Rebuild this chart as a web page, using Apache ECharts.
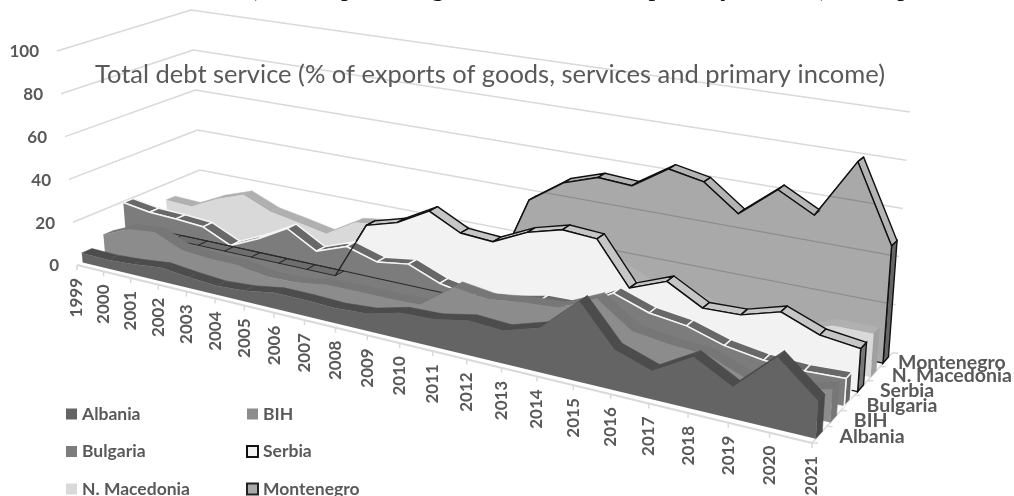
<!DOCTYPE html>
<html>
<head>
<meta charset="utf-8">
<style>html,body{margin:0;padding:0;background:#fff}#chart{width:1014px;height:496px}</style>
<script src="https://cdn.jsdelivr.net/npm/echarts@6/dist/echarts.min.js"></script>
</head>
<body>
<div id="chart"></div>
<script>
// Total debt service, % of exports of goods, services and primary income
const years = ['1999','2000','2001','2002','2003','2004','2005','2006','2007','2008','2009','2010','2011','2012','2013','2014','2015','2016','2017','2018','2019','2020','2021'];
const depthLabels = ['Albania','BIH','Bulgaria','Serbia','N. Macedonia','Montenegro'];
const valueTicks = [0,20,40,60,80,100];

const albania    = [4.5,4.2,5,6.4,5,4,4.9,7,7,6.5,7.5,11,11.5,14.3,13.5,18,32,16,11,20,12,27,14];
const bih        = [8.5,14,15.3,9.7,8.7,8.6,6.3,6.6,8.8,9,9,9.4,20,18,20,21,28,18,16,15,9,9,12.7];
const bulgaria   = [19.5,17.5,17,16,10,16,23.5,16,21,17,19,13.5,11,12.4,15.6,16,25,20,18,13.4,11,10.3,11];
const serbia     = [0,0,0,0,0,0,0,0,26,30,38,31,30,37,41,40,22,28,20,20.5,25,19,17];
const macedonia  = [12.3,11.7,17.9,22.5,17,14.6,12,20,22,25,27,24,24,28,30,25,18,18,14,14,12,17.5,17.5];
const montenegro = [null,null,null,null,null,null,null,null,null,null,null,0,39.5,50,55,54,64,61,50,63,55,80,48];

// Box corners of the 3-D scene: floor and the plane at the axis maximum
const floorQuad = [[77,265],[812,443],[892,353],[202,210]];
const roofQuad  = [[57,51],[830,174],[910,112],[191,10]];

function quadMap(q){
  const [[x0,y0],[x1,y1],[x2,y2],[x3,y3]] = q;
  const dx1=x1-x2, dx2=x3-x2, sx=x0-x1+x2-x3, dy1=y1-y2, dy2=y3-y2, sy=y0-y1+y2-y3;
  const den=dx1*dy2-dx2*dy1, g=(sx*dy2-dx2*sy)/den, h=(dx1*sy-sx*dy1)/den;
  const a=x1-x0+g*x1, b=x3-x0+h*x3, d=y1-y0+g*y1, e=y3-y0+h*y3;
  return (u,v)=>{const w=g*u+h*v+1; return [(a*u+b*v+x0)/w,(d*u+e*v+y0)/w];};
}
const floorMap = quadMap(floorQuad), roofMap = quadMap(roofQuad);
const FRONT = 0.25, BACK = 0.7, ROWS = depthLabels.length;
const TEXT = '#595959', FONT = 'Lato';
const depthLabelNudge = [20,20,19,19,18,12];

// Scene position of a (year, value) pair on a depth plane, read through the cartesian axes
function projector(params, api){
  const g = params.coordSys;
  return (k, value, v)=>{
    const c = api.coord([k, value]);
    const u = (c[0]-g.x)/g.width, t = (g.y+g.height-c[1])/g.height;
    const f = floorMap(u,v), r = roofMap(u,v);
    return [f[0]+(r[0]-f[0])*t, f[1]+(r[1]-f[1])*t];
  };
}
const poly = (points, style)=>({type:'polygon', shape:{points}, style});
const line = (points, stroke, lineWidth)=>({type:'polyline', shape:{points}, style:{stroke, lineWidth, fill:null, lineJoin:'round'}});
const txt = (text, x, y, font, opts)=>({type:'text', x, y, rotation:(opts&&opts.rotation)||0, style:{text, x:0, y:0, font, fill:(opts&&opts.fill)||TEXT, align:(opts&&opts.align)||'left', verticalAlign:'middle'}});

// One ribbon: top strips and end wall first, then the front face over them
function ribbon(params, api, values, row, look){
  if (params.dataIndex !== 0) return null;
  const P = projector(params, api);
  const vF = (row+FRONT)/ROWS, vB = (row+BACK)/ROWS;
  const idx = values.map((x,i)=>x===null?-1:i).filter(i=>i>=0);
  const kids = [];
  const edge = look.edge;
  const skip = i => values[i]===0 && values[i+1]===0;
  idx.slice(0,-1).forEach(i=>{
    if (skip(i)) return;
    kids.push(poly([P(i,values[i],vF),P(i+1,values[i+1],vF),P(i+1,values[i+1],vB),P(i,values[i],vB)],
      {fill:look.strip, stroke:edge||look.strip, lineWidth:edge?look.width:0.5, lineJoin:'round'}));
  });
  const last = idx[idx.length-1];
  kids.push(poly([P(last,values[last],vF),P(last,values[last],vB),P(last,0,vB),P(last,0,vF)],
    {fill:look.side, stroke:edge||look.side, lineWidth:edge?look.width:0.5}));
  const top = idx.map(i=>P(i,values[i],vF));
  const shape = top.concat([P(last,0,vF),P(idx[0],0,vF)]);
  kids.push(poly(shape, {fill:look.face}));
  if (look.wallLines) look.wallLines(params, api, P, shape, kids);
  if (edge){
    const first = idx.find(i=>!skip(i));
    const run = idx.filter(i=>i>=first).map(i=>P(i,values[i],vF));
    run.push(P(last,0,vF));
    run.push(P(first,0,vF));
    kids.push(line(run, edge, look.width));
    if (look.crossTicks) idx.forEach(i=>kids.push(line([P(i,values[i],vF),P(i,values[i],vB)], edge, 1)));
  }
  return {type:'group', children:kids};
}

// Walls, floor axes and every tick label
function frame(params, api){
  if (params.dataIndex !== 0) return null;
  const P = projector(params, api), n = years.length-1;
  const kids = [];
  const grid = '#d9d9d9';
  valueTicks.forEach(t=>{
    const a=P(0,t,0), b=P(0,t,1), c=P(n,t,1);
    if (t>0) kids.push(line([a,b,c], grid, 1.5));
    kids.push(txt(String(t), a[0]-18, a[1]+1, 'bold 17px '+FONT, {align:'right'}));
  });
  const fl=P(0,0,0), fr=P(n,0,0), br=P(n,0,1);
  kids.push(line([fl,fr], grid, 2));
  kids.push(line([fr,br], grid, 1.5));
  years.forEach((y,k)=>{
    // year ticks sit slightly further along the axis than the pure projection
    const u=k/n, slide=0.03*u*(1-u)*735;
    const p0=P(k,0,0), p=[p0[0]+slide,p0[1]+slide*0.242];
    kids.push(line([p,[p[0],p[1]+5]], grid, 1.5));
    kids.push(txt(y, p[0], p[1]+13, 'bold 17px '+FONT, {rotation:Math.PI/2, align:'right'}));
  });
  depthLabels.forEach((d,i)=>{
    const t=P(n,0,i/ROWS), m=P(n,0,(i+0.5)/ROWS);
    kids.push(line([t,[t[0]+6,t[1]]], grid, 1.5));
    kids.push(txt(d, m[0]+depthLabelNudge[i], m[1]+2.5, 'bold 19.5px '+FONT));
  });
  const tk=P(n,0,1);
  kids.push(line([tk,[tk[0]+6,tk[1]]], grid, 1.5));
  kids.push(txt('Total debt service (% of exports of goods, services and primary income)', 95, 75, '25.5px '+FONT));
  kids.push(txt('(% of exports of goods, services and primary income), over period', 248, -12, '27px "Liberation Serif"', {fill:'#111'}));
  return {type:'group', children:kids};
}

// Back-wall gridlines showing through the Montenegro face
function wallThrough(params, api, P, shape, kids){
  valueTicks.slice(1).forEach(t=>{
    const l=line([P(0,t,1),P(years.length-1,t,1)], 'rgba(70,70,70,0.28)', 1.3);
    l.clipPath={type:'polygon', shape:{points:shape}};
    kids.push(l);
  });
}

// Serbia's zero run, lying on top of the Bulgaria face
function serbiaFloor(params, api){
  if (params.dataIndex !== 0) return null;
  const P=projector(params, api), vF=(3+FRONT)/ROWS, vB=(3+BACK)/ROWS, kids=[];
  serbia.forEach((x,i)=>{
    if (i>=1 && i<7) kids.push(poly([P(i,0,vF),P(i+1,0,vF),P(i+1,0,vB),P(i,0,vB)], {fill:'#6e6e6e', stroke:'#222', lineWidth:0.9}));
  });
  const rear=[]; for(let i=0;i<=12;i++) rear.push(P(i,0,vB));
  kids.push(line(rear,'#2a2a2a',1.1));
  kids.push(line([P(7,0,vF),P(8,serbia[8],vF)],'#222',1.3));
  return {type:'group', children:kids};
}

const rows = a => a.map((v,k)=>[k,v]);
const area = (name, values, row, look)=>({
  name, type:'custom', coordinateSystem:'cartesian2d', encode:{x:0,y:1},
  data:rows(values), itemStyle:{color:look.face, borderColor:look.legendBorder||look.face, borderWidth:look.legendBorder?1.5:0},
  renderItem:(p,a)=>ribbon(p,a,values,row,look), silent:true, animation:false
});
const legendText = {fontFamily:FONT,fontWeight:'bold',fontSize:17.5,color:TEXT};

const option = {
  backgroundColor:'#fff',
  animation:false,
  grid:{left:0,right:0,top:0,bottom:0,containLabel:false},
  xAxis:{type:'category',data:years,boundaryGap:false,show:false},
  yAxis:{type:'value',min:0,max:100,interval:20,show:false},
  legend:[
    {data:['Albania','Bulgaria','N. Macedonia'],orient:'vertical',left:66,top:405,height:200,padding:0,itemGap:19.5,itemWidth:11,itemHeight:11,icon:'rect',selectedMode:false,textStyle:legendText},
    {data:['BIH','Serbia','Montenegro'],orient:'vertical',left:246,top:405,height:200,padding:0,itemGap:19.5,itemWidth:11,itemHeight:11,icon:'rect',selectedMode:false,textStyle:legendText}
  ],
  series:[
    {name:'frame',type:'custom',coordinateSystem:'cartesian2d',encode:{x:0,y:1},data:rows(years.map(()=>0)),renderItem:frame,silent:true},
    area('Montenegro',montenegro,5,{face:'#a9a9a9',strip:'#b4b4b4',side:'#666',edge:'#111',width:1.4,crossTicks:true,wallLines:wallThrough,legendBorder:'#222'}),
    area('N. Macedonia',macedonia,4,{face:'#d9d9d9',strip:'#b0b0b0',side:'#a0a0a0'}),
    area('Serbia',serbia,3,{face:'#f2f2f2',strip:'#c6c6c6',side:'#777',edge:'#111',width:1.4,crossTicks:true,legendBorder:'#111'}),
    area('Bulgaria',bulgaria,2,{face:'#7c7c7c',strip:'#686868',side:'#666',edge:'#f4f4f4',width:1.5,crossTicks:false}),
    {name:'serbia floor',type:'custom',coordinateSystem:'cartesian2d',encode:{x:0,y:1},data:rows(serbia),renderItem:serbiaFloor,silent:true},
    area('BIH',bih,1,{face:'#8c8c8c',strip:'#777',side:'#777'}),
    area('Albania',albania,0,{face:'#646464',strip:'#4c4c4c',side:'#4a4a4a'})
  ]
};
echarts.init(document.getElementById('chart'),null,{renderer:'canvas'}).setOption(option);
</script>
</body>
</html>
